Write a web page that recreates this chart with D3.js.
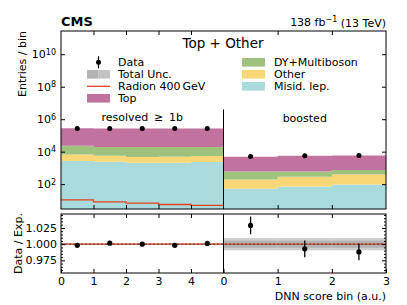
<!DOCTYPE html>
<html><head><meta charset="utf-8">
<script src="https://cdn.jsdelivr.net/npm/d3@7"></script>
<style>body{margin:0;background:#fff} svg{display:block} text{font-family:"DejaVu Sans",sans-serif;fill:#000}</style>
</head><body><svg id="c" width="407" height="305"></svg>
<script>
// ---------------- data ----------------
const resolvedBins = [0, 1, 2, 3, 4];
const boostedBins = [0, 1, 2];
const processes = ["misid", "other", "dy", "top"];
const processLabels = {misid: "Misid. lep.", other: "Other", dy: "DY+Multiboson", top: "Top"};
const processColors = {misid: "#a9dadc", other: "#fad776", dy: "#9fc17e", top: "#c1729f"};

const resMisid = [2700, 2400, 2100, 2100, 2300];
const resOther = [3900, 3300, 2600, 2800, 3100];
const resDY    = [16400, 13700, 14700, 14500, 14000];
const resTop   = [249000, 250600, 250600, 251600, 251600];
const resData  = [271500, 270400, 270000, 270500, 271300];
const resRadion = [10.9, 8.2, 6.7, 5.6, 4.9];
const resUnc = [0.0015, 0.0015, 0.0015, 0.0015, 0.0015];

const booMisid = [52, 71, 94];
const booOther = [139, 210, 294];
const booDY    = [402, 312, 366];
const booTop   = [4257, 4957, 5096];
const booData  = [4990, 5510, 5780];
const booRadion = [1.2, 1.4, 1.6];
const booDataErr = [0.0136, 0.013, 0.0128];
const booUncTot = [0.0095, 0.0095, 0.0095];
const booUncStat = [0.0055, 0.0055, 0.0055];

const yTicks = [1e2, 1e4, 1e6, 1e8, 1e10];
const ratioTicks = [0.975, 1.0, 1.025];
const resXTicks = [0, 1, 2, 3, 4];
const booXTicks = [0, 1, 2, 3];

// ---------------- layout ----------------
const L = 61, R = 386, MID = 223.5;
const mainTop = 31, mainBot = 209, ratTop = 214, ratBot = 273;
const svg = d3.select("#c");

const xRes = d3.scaleLinear().domain([0, 5]).range([L, MID]);
const xBoo = d3.scaleLinear().domain([0, 3]).range([MID, R]);
const y = d3.scaleLog().domain([Math.pow(10, 0.47), Math.pow(10, 11.43)]).range([mainBot, mainTop]);
const yR = d3.scaleLinear().domain([0.9555, 1.0465]).range([ratBot, ratTop]);

svg.append("clipPath").attr("id", "clipMain").append("rect")
  .attr("x", L).attr("y", mainTop).attr("width", R - L).attr("height", mainBot - mainTop);
svg.append("clipPath").attr("id", "clipRat").append("rect")
  .attr("x", L).attr("y", ratTop).attr("width", R - L).attr("height", ratBot - ratTop);

const gMain = svg.append("g").attr("clip-path", "url(#clipMain)");
const gRat = svg.append("g").attr("clip-path", "url(#clipRat)");

function region(bins, x, misid, other, dy, top, data, radion) {
  const rows = bins.map((b, i) => ({bin: b, misid: misid[i], other: other[i], dy: dy[i], top: top[i]}));
  const stacked = d3.stack().keys(processes)(rows);
  stacked.forEach(layer => {
    const pts = layer.map(d => ({x: d.data.bin, y0: Math.max(d[0], 1e-3), y1: d[1]}));
    const last = pts[pts.length - 1];
    pts.push({x: last.x + 1, y0: last.y0, y1: last.y1});
    const area = d3.area().curve(d3.curveStepAfter)
      .x(d => x(d.x)).y0(d => y(d.y0)).y1(d => y(d.y1));
    gMain.append("path").attr("d", area(pts)).attr("fill", processColors[layer.key]);
  });
  // radion step line
  const pts = [];
  bins.forEach((b, i) => { pts.push([x(b), y(radion[i])]); pts.push([x(b + 1), y(radion[i])]); });
  gMain.append("path").attr("d", d3.line()(pts)).attr("fill", "none")
    .attr("stroke", "#e2431e").attr("stroke-width", 1.3);
  // data points
  bins.forEach((b, i) => {
    const cx = x(b + 0.5), e = Math.sqrt(data[i]);
    gMain.append("line").attr("x1", cx).attr("x2", cx)
      .attr("y1", y(data[i] - e)).attr("y2", y(data[i] + e)).attr("stroke", "#000").attr("stroke-width", 1.2);
    gMain.append("circle").attr("cx", cx).attr("cy", y(data[i])).attr("r", 2.5).attr("fill", "#000");
  });
  return rows.map((r, i) => r.misid + r.other + r.dy + r.top);
}
const resTot = region(resolvedBins, xRes, resMisid, resOther, resDY, resTop, resData, resRadion);
const booTot = region(boostedBins, xBoo, booMisid, booOther, booDY, booTop, booData, booRadion);

// ---------------- ratio panel ----------------
resolvedBins.forEach((b, i) => {
  gRat.append("rect").attr("x", xRes(b)).attr("width", xRes(b + 1) - xRes(b))
    .attr("y", yR(1 + resUnc[i])).attr("height", yR(1 - resUnc[i]) - yR(1 + resUnc[i])).attr("fill", "#c4c4c4");
});
boostedBins.forEach((b, i) => {
  gRat.append("rect").attr("x", xBoo(b)).attr("width", xBoo(b + 1) - xBoo(b))
    .attr("y", yR(1 + booUncTot[i])).attr("height", yR(1 - booUncTot[i]) - yR(1 + booUncTot[i])).attr("fill", "#cfcfcf");
  gRat.append("rect").attr("x", xBoo(b)).attr("width", xBoo(b + 1) - xBoo(b))
    .attr("y", yR(1 + booUncStat[i])).attr("height", yR(1 - booUncStat[i]) - yR(1 + booUncStat[i])).attr("fill", "#b3b3b3");
});
gRat.append("line").attr("x1", L).attr("x2", R).attr("y1", yR(1)).attr("y2", yR(1))
  .attr("stroke", "#e2431e").attr("stroke-width", 1.2);
gRat.append("line").attr("x1", L).attr("x2", R).attr("y1", yR(1)).attr("y2", yR(1))
  .attr("stroke", "#333").attr("stroke-width", 0.8).attr("stroke-dasharray", "2,2");
resolvedBins.forEach((b, i) => {
  gRat.append("circle").attr("cx", xRes(b + 0.5)).attr("cy", yR(resData[i] / resTot[i])).attr("r", 2.6).attr("fill", "#000");
});
boostedBins.forEach((b, i) => {
  const r = booData[i] / booTot[i], cx = xBoo(b + 0.5);
  gRat.append("line").attr("x1", cx).attr("x2", cx).attr("y1", yR(r - booDataErr[i])).attr("y2", yR(r + booDataErr[i]))
    .attr("stroke", "#000").attr("stroke-width", 1.3);
  gRat.append("circle").attr("cx", cx).attr("cy", yR(r)).attr("r", 2.6).attr("fill", "#000");
});

// ---------------- divider ----------------
svg.append("line").attr("x1", MID).attr("x2", MID).attr("y1", mainBot).attr("y2", y(4e6))
  .attr("stroke", "#000").attr("stroke-width", 1);
svg.append("line").attr("x1", MID).attr("x2", MID).attr("y1", ratTop).attr("y2", ratBot)
  .attr("stroke", "#000").attr("stroke-width", 1);

// ---------------- axes ----------------
function styleAxis(g) {
  g.selectAll("path.domain").remove();
  g.selectAll(".tick line").attr("stroke", "#000");
  g.selectAll(".tick text").attr("font-size", 11).attr("font-family", "DejaVu Sans").attr("fill", "#000");
}
// main y axis
const yAx = svg.append("g").attr("transform", `translate(${L},0)`)
  .call(d3.axisLeft(y).tickValues(yTicks).tickSize(-4).tickPadding(5).tickFormat(""));
styleAxis(yAx);
yAx.selectAll(".tick text").each(function (d) {
  const t = d3.select(this);
  t.text("");
  t.append("tspan").text("10");
  t.append("tspan").attr("dy", "-0.45em").attr("font-size", 8).text(Math.round(Math.log10(d)));
});
const yAxR = svg.append("g").attr("transform", `translate(${R},0)`)
  .call(d3.axisRight(y).tickValues(yTicks).tickSize(-4).tickFormat(""));
styleAxis(yAxR);

// main x ticks (top/bottom)
[[xRes, [1, 2, 3, 4]], [xBoo, [1, 2]]].forEach(([sc, tv]) => {
  styleAxis(svg.append("g").attr("transform", `translate(0,${mainBot})`)
    .call(d3.axisBottom(sc).tickValues(tv).tickSize(-4).tickFormat("")));
  styleAxis(svg.append("g").attr("transform", `translate(0,${mainTop})`)
    .call(d3.axisTop(sc).tickValues(tv).tickSize(-4).tickFormat("")));
  styleAxis(svg.append("g").attr("transform", `translate(0,${ratTop})`)
    .call(d3.axisTop(sc).tickValues(tv).tickSize(-4).tickFormat("")));
});
// ratio x axis with labels
styleAxis(svg.append("g").attr("transform", `translate(0,${ratBot})`)
  .call(d3.axisBottom(xRes).tickValues(resXTicks).tickSize(-4).tickPadding(4).tickFormat(d3.format("d"))));
styleAxis(svg.append("g").attr("transform", `translate(0,${ratBot})`)
  .call(d3.axisBottom(xBoo).tickValues(booXTicks).tickSize(-4).tickPadding(4).tickFormat(d3.format("d"))));
// ratio y axis
const minorR = d3.range(0.96, 1.046, 0.005).filter(v => !ratioTicks.some(t => Math.abs(t - v) < 1e-6));
styleAxis(svg.append("g").attr("transform", `translate(${L},0)`)
  .call(d3.axisLeft(yR).tickValues(ratioTicks).tickSize(-4).tickPadding(4).tickFormat(d3.format(".3f"))));
styleAxis(svg.append("g").attr("transform", `translate(${L},0)`)
  .call(d3.axisLeft(yR).tickValues(minorR).tickSize(-2).tickFormat("")));
styleAxis(svg.append("g").attr("transform", `translate(${R},0)`)
  .call(d3.axisRight(yR).tickValues(ratioTicks).tickSize(-4).tickFormat("")));
styleAxis(svg.append("g").attr("transform", `translate(${R},0)`)
  .call(d3.axisRight(yR).tickValues(minorR).tickSize(-2).tickFormat("")));

// frames
svg.append("rect").attr("x", L).attr("y", mainTop).attr("width", R - L).attr("height", mainBot - mainTop)
  .attr("fill", "none").attr("stroke", "#000").attr("stroke-width", 1);
svg.append("rect").attr("x", L).attr("y", ratTop).attr("width", R - L).attr("height", ratBot - ratTop)
  .attr("fill", "none").attr("stroke", "#000").attr("stroke-width", 1);

// ---------------- texts ----------------
svg.append("text").attr("x", L).attr("y", 26).attr("font-size", 13).attr("font-weight", "bold").text("CMS");
const lumi = svg.append("text").attr("x", R).attr("y", 26).attr("font-size", 11).attr("text-anchor", "end");
lumi.append("tspan").text("138 fb");
lumi.append("tspan").attr("dy", "-0.45em").attr("font-size", 8).text("\u22121");
lumi.append("tspan").attr("dy", "0.45em").text(" (13 TeV)");
svg.append("text").attr("x", 223).attr("y", 48).attr("font-size", 13.5).attr("text-anchor", "middle").text("Top + Other");
svg.append("text").attr("x", (L + MID) / 2).attr("y", 121).attr("font-size", 11).attr("text-anchor", "middle").text("resolved \u2009\u2265\u2009 1b");
svg.append("text").attr("x", (MID + R) / 2).attr("y", 122).attr("font-size", 11).attr("text-anchor", "middle").text("boosted");
svg.append("text").attr("transform", `translate(26,${mainTop}) rotate(-90)`).attr("font-size", 11).attr("text-anchor", "end").text("Entries / bin");
svg.append("text").attr("transform", `translate(22,${(ratTop + ratBot) / 2}) rotate(-90)`).attr("font-size", 11).attr("text-anchor", "middle").text("Data / Exp.");
svg.append("text").attr("x", R).attr("y", 300).attr("font-size", 11).attr("text-anchor", "end").text("DNN score bin (a.u.)");

// ---------------- legend ----------------
const lg = svg.append("g");
const rowY = [62.3, 74.3, 86.3, 98.3];
lg.append("line").attr("x1", 98.5).attr("x2", 98.5).attr("y1", rowY[0] - 6).attr("y2", rowY[0] + 6).attr("stroke", "#000").attr("stroke-width", 1.2);
lg.append("circle").attr("cx", 98.5).attr("cy", rowY[0]).attr("r", 2.5).attr("fill", "#000");
lg.append("rect").attr("x", 87).attr("y", rowY[1] - 4.3).attr("width", 11.5).attr("height", 8.6).attr("fill", "#b3b3b3");
lg.append("rect").attr("x", 98.5).attr("y", rowY[1] - 4.3).attr("width", 11.5).attr("height", 8.6).attr("fill", "#c2c2c2");
lg.append("line").attr("x1", 87).attr("x2", 110).attr("y1", rowY[2]).attr("y2", rowY[2]).attr("stroke", "#e2431e").attr("stroke-width", 1.3);
lg.append("rect").attr("x", 87).attr("y", rowY[3] - 4.3).attr("width", 23).attr("height", 8.6).attr("fill", processColors.top);
const leftLabels = ["Data", "Total Unc.", "Radion 400\u2009GeV", processLabels.top];
leftLabels.forEach((t, i) => lg.append("text").attr("x", 118).attr("y", rowY[i] + 4).attr("font-size", 11).text(t));
["dy", "other", "misid"].forEach((k, i) => {
  lg.append("rect").attr("x", 242).attr("y", rowY[i] - 4.3).attr("width", 23).attr("height", 8.6).attr("fill", processColors[k]);
  lg.append("text").attr("x", 274).attr("y", rowY[i] + 4).attr("font-size", 11).text(processLabels[k]);
});
</script>
</body></html>
